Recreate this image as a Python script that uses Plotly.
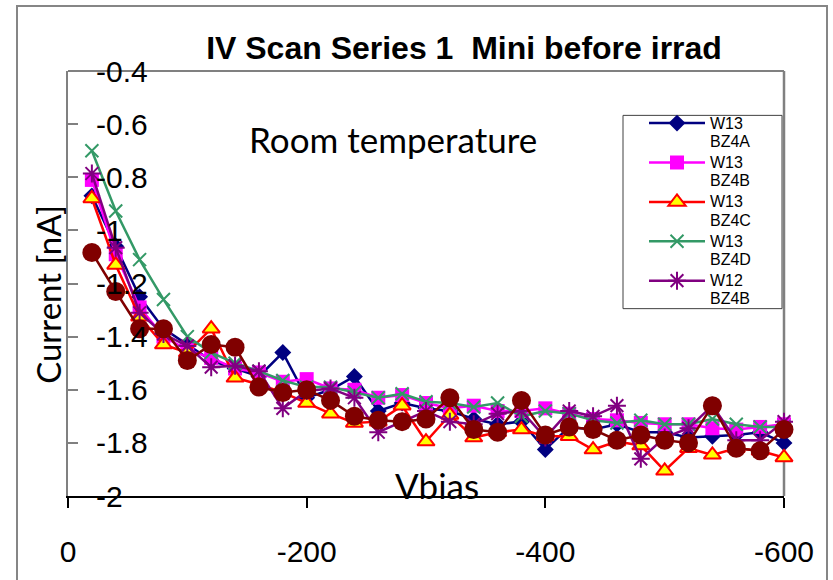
import plotly.graph_objects as go

# Bias voltage steps (V)
vbias = [-20, -40, -60, -80, -100, -120, -140, -160, -180, -200,
         -220, -240, -260, -280, -300, -320, -340, -360, -380, -400,
         -420, -440, -460, -480, -500, -520, -540, -560, -580, -600]

# Leakage current per sensor (nA)
w13_bz4a = [-0.87, -1.06, -1.25, -1.37, -1.43, -1.49, -1.52, -1.55, -1.46, -1.63,
            -1.60, -1.55, -1.68, -1.65, -1.67, -1.68, -1.71, -1.73, -1.72, -1.825,
            -1.74, -1.75, -1.73, -1.76, -1.76, -1.78, -1.775, -1.77, -1.76, -1.80]
w13_bz4b = [-0.81, -1.09, -1.29, -1.40, -1.45, -1.48, -1.52, -1.535, -1.57, -1.56,
            -1.595, -1.60, -1.63, -1.62, -1.65, -1.67, -1.66, -1.68, -1.68, -1.67,
            -1.69, -1.71, -1.715, -1.725, -1.73, -1.73, -1.745, -1.75, -1.74, -1.73]
w13_bz4c = [-0.88, -1.13, -1.325, -1.43, -1.46, -1.37, -1.555, -1.58, -1.61, -1.65,
            -1.69, -1.725, -1.72, -1.66, -1.795, -1.695, -1.78, -1.76, -1.75, -1.775,
            -1.775, -1.825, -1.795, -1.81, -1.905, -1.82, -1.845, -1.82, -1.83, -1.855]
w13_bz4d = [-0.70, -0.927, -1.11, -1.26, -1.40, -1.46, -1.50, -1.53, -1.565, -1.59,
            -1.59, -1.61, -1.63, -1.615, -1.645, -1.65, -1.665, -1.65, -1.70, -1.68,
            -1.69, -1.715, -1.725, -1.715, -1.73, -1.73, -1.71, -1.73, -1.74, -1.74]
w12_bz4b = [-0.786, -1.065, -1.31, -1.39, -1.435, -1.515, -1.51, -1.53, -1.67, -1.605,
            -1.595, -1.63, -1.76, -1.72, -1.68, -1.72, -1.73, -1.69, -1.68, -1.78,
            -1.68, -1.70, -1.66, -1.86, -1.78, -1.745, -1.66, -1.79, -1.79, -1.72]
extra_series = [-1.083, -1.23, -1.37, -1.37, -1.49, -1.43, -1.44, -1.59, -1.61, -1.60,
                -1.64, -1.70, -1.715, -1.72, -1.71, -1.63, -1.75, -1.76, -1.64, -1.77,
                -1.74, -1.75, -1.79, -1.77, -1.79, -1.80, -1.66, -1.82, -1.83, -1.75]

series_wafer = ["W13", "W13", "W13", "W13", "W12"]
series_sensor = ["BZ4A", "BZ4B", "BZ4C", "BZ4D", "BZ4B"]

x_tickvals = [0, -200, -400, -600]
x_ticktext = ["0", "-200", "-400", "-600"]
y_tickvals = [-2, -1.8, -1.6, -1.4, -1.2, -1, -0.8, -0.6, -0.4]
y_ticktext = ["-2", "-1.8", "-1.6", "-1.4", "-1.2", "-1", "-0.8", "-0.6", "-0.4"]

# Plot-area geometry in pixels (used to place frame/legend box in paper units)
W, H = 833, 580
L, R, T, B = 68, 49, 71, 78
PW, PH = W - L - R, H - T - B


def px_x(p):
    return (p - L) / PW


def px_y(p):
    return (H - B - p) / PH


styles = [
    dict(color="#000080", marker=dict(symbol="diamond", size=13, color="#000080")),
    dict(color="#FF00FF", marker=dict(symbol="square", size=14, color="#FF00FF")),
    dict(color="#FF0000", marker=dict(symbol="triangle-up", size=15, color="#FFFF00",
                                      line=dict(color="#FF0000", width=2))),
    dict(color="#339966", marker=dict(symbol="x-thin-open", size=13, color="#339966",
                                      line=dict(color="#339966", width=2))),
    dict(color="#800080", marker=dict(symbol="asterisk-open", size=15, color="#800080",
                                      line=dict(color="#800080", width=2))),
]

fig = go.Figure()
for wafer, sensor, ys, st in zip(series_wafer, series_sensor,
                                 [w13_bz4a, w13_bz4b, w13_bz4c, w13_bz4d, w12_bz4b], styles):
    label = f'<span style="font-size:16px">{wafer}<br>{sensor}</span>'
    fig.add_trace(go.Scatter(
        x=vbias, y=ys, name=label, mode="lines+markers",
        line=dict(color=st["color"], width=2.5),
        marker=st["marker"], cliponaxis=False,
    ))

fig.add_trace(go.Scatter(
    x=vbias, y=extra_series, name="", mode="lines+markers", showlegend=False,
    line=dict(color="#800000", width=2.5),
    marker=dict(symbol="circle", size=19, color="#800000"), cliponaxis=False,
))

fig.update_layout(
    width=W, height=H,
    margin=dict(l=L, r=R, t=T, b=B),
    paper_bgcolor="white", plot_bgcolor="white",
    font=dict(family="Liberation Sans, Arial, sans-serif", color="black"),
    title=dict(text="<b>IV Scan Series 1&nbsp;&nbsp;Mini before irrad</b>",
               x=464 / W, xanchor="center", y=1 - 48 / H, yanchor="middle",
               yref="container", font=dict(size=32, family="Liberation Sans, Arial", color="black")),
    showlegend=True,
    legend=dict(x=px_x(644), y=px_y(108), xanchor="left", yanchor="top",
                bgcolor="rgba(0,0,0,0)", borderwidth=0, valign="top",
                font=dict(size=14, family="Liberation Sans, Arial", color="black"),
                itemwidth=56, tracegroupgap=0),
    xaxis=dict(range=[0, -600], tickvals=x_tickvals, ticktext=x_ticktext,
               showgrid=False, zeroline=False, showline=True, linecolor="black", linewidth=1.5,
               ticks="outside", ticklen=10, tickcolor="black", tickwidth=1.5,
               tickfont=dict(size=30, family="Liberation Sans, Arial", color="black"),
               ticklabelstandoff=18, ticklabeloverflow="allow"),
    yaxis=dict(range=[-2, -0.4], tickvals=y_tickvals, ticktext=y_ticktext,
               showgrid=False, zeroline=False, showline=True, linecolor="#808080", linewidth=2,
               ticks="inside", ticklen=10, tickcolor="#808080", tickwidth=1.5,
               ticklabelposition="inside", ticklabeloverflow="allow", layer="above traces",
               tickfont=dict(size=30, family="Liberation Sans, Arial", color="black"),
               ticklabelstandoff=21),
    shapes=[
        # outer chart frame
        dict(type="rect", xref="paper", yref="paper",
             x0=px_x(17), x1=px_x(827), y0=px_y(600), y1=px_y(5),
             line=dict(color="#868686", width=2), layer="below"),
        # plot-area border (top and right)
        dict(type="line", xref="paper", yref="paper", x0=0, x1=1, y0=1, y1=1,
             line=dict(color="#808080", width=2), layer="below"),
        dict(type="line", xref="paper", yref="paper", x0=1, x1=1, y0=0, y1=1,
             line=dict(color="#808080", width=2.5), layer="below"),
        # legend frame
        dict(type="rect", xref="paper", yref="paper",
             x0=px_x(623), x1=px_x(782), y0=px_y(312), y1=px_y(116),
             line=dict(color="#404040", width=1), fillcolor="white", layer="below"),
    ],
    annotations=[
        dict(text="Room temperature", xref="paper", yref="paper",
             x=px_x(393), y=px_y(140), showarrow=False, xanchor="center", yanchor="middle",
             font=dict(size=35, family="Lato, Open Sans, sans-serif", color="black")),
        dict(text="Current [nA]", xref="paper", yref="paper", textangle=-90,
             x=px_x(48), y=px_y(298), showarrow=False, xanchor="center", yanchor="middle",
             font=dict(size=33, family="Lato, Open Sans, sans-serif", color="black")),
        dict(text="Vbias", xref="paper", yref="paper",
             x=px_x(437), y=px_y(491), showarrow=False, xanchor="center", yanchor="middle",
             font=dict(size=35, family="Lato, Open Sans, sans-serif", color="black")),
    ],
)

fig.write_html("out.html")
